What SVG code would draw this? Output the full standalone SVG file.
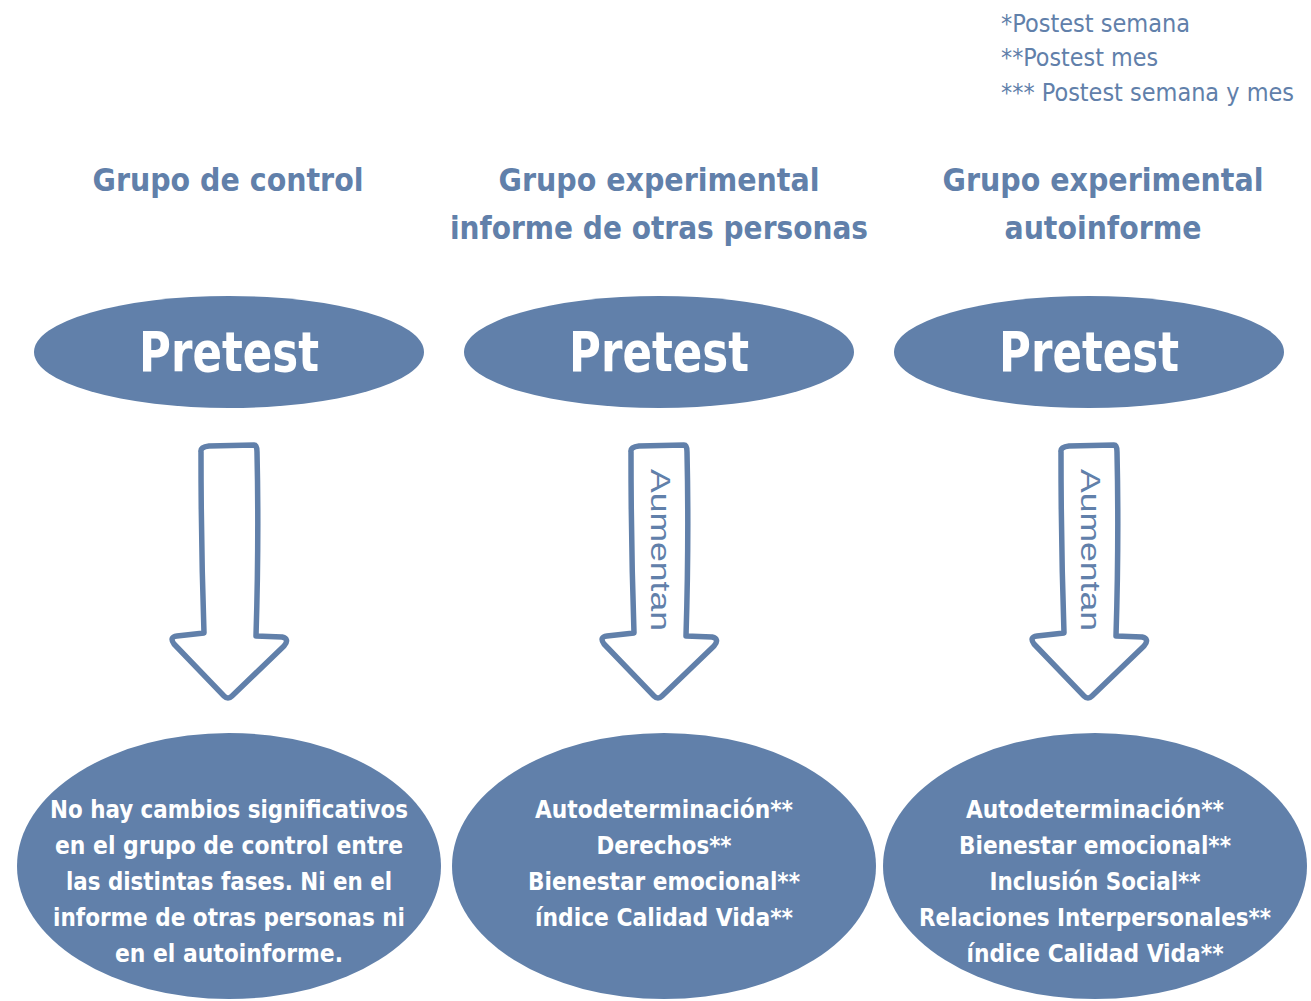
<svg xmlns="http://www.w3.org/2000/svg" width="1311" height="1001" viewBox="0 0 1311 1001">
<style>
.bg{fill:#ffffff}
.ell{fill:#6180AA}
.head{font-family:"DejaVu Sans Condensed","DejaVu Sans","Liberation Sans",sans-serif;font-size:32px;font-weight:bold;fill:#6180AA;text-anchor:middle}
.leg{font-family:"DejaVu Sans Condensed","DejaVu Sans","Liberation Sans",sans-serif;font-size:24px;fill:#6180AA}
.pre{font-family:"DejaVu Sans","Liberation Sans",sans-serif;font-size:55px;font-weight:bold;fill:#ffffff;text-anchor:middle}
.res{font-family:"DejaVu Sans Condensed","DejaVu Sans","Liberation Sans",sans-serif;font-size:24px;font-weight:bold;fill:#ffffff;text-anchor:middle}
.arrow{fill:#ffffff;stroke:#6180AA;stroke-width:5.5;stroke-linejoin:round}
.aum{font-family:"Liberation Sans","DejaVu Sans",sans-serif;font-size:27px;fill:#6180AA;text-anchor:middle}
</style>
<defs>
<path id="arr" d="M 201,452 Q 200,447 209,446 L 254,445 Q 257,445 257,452 Q 259,540 256,636 L 282,637 Q 290,639 284,646 L 232,696 Q 228,700 224,696 L 174,644 Q 169,637 177,636 L 204,633 Q 201,545 201,452 Z"/>
</defs>
<rect class="bg" x="0" y="0" width="1311" height="1001"/>

<g id="legend">
<text class="leg" x="1001" y="32" textLength="189" lengthAdjust="spacingAndGlyphs">*Postest semana</text>
<text class="leg" x="1001" y="66" textLength="157" lengthAdjust="spacingAndGlyphs">**Postest mes</text>
<text class="leg" x="1001" y="101" textLength="293" lengthAdjust="spacingAndGlyphs">*** Postest semana y mes</text>
</g>

<g id="heading-control">
<text class="head" x="228" y="191" textLength="271" lengthAdjust="spacingAndGlyphs">Grupo de control</text>
</g>
<g id="heading-otras">
<text class="head" x="659" y="191" textLength="321" lengthAdjust="spacingAndGlyphs">Grupo experimental</text>
<text class="head" x="659" y="239" textLength="418" lengthAdjust="spacingAndGlyphs">informe de otras personas</text>
</g>
<g id="heading-auto">
<text class="head" x="1103" y="191" textLength="321" lengthAdjust="spacingAndGlyphs">Grupo experimental</text>
<text class="head" x="1103" y="239" textLength="197" lengthAdjust="spacingAndGlyphs">autoinforme</text>
</g>

<g id="pretest-control">
<ellipse class="ell" cx="229" cy="352" rx="195" ry="56"/>
<text class="pre" x="229" y="371" textLength="180" lengthAdjust="spacingAndGlyphs">Pretest</text>
</g>
<g id="pretest-otras">
<ellipse class="ell" cx="659" cy="352" rx="195" ry="56"/>
<text class="pre" x="659" y="371" textLength="180" lengthAdjust="spacingAndGlyphs">Pretest</text>
</g>
<g id="pretest-auto">
<ellipse class="ell" cx="1089" cy="352" rx="195" ry="56"/>
<text class="pre" x="1089" y="371" textLength="180" lengthAdjust="spacingAndGlyphs">Pretest</text>
</g>

<g id="connectors">
<use href="#arr" class="arrow"/>
<use href="#arr" class="arrow" transform="translate(430,0)"/>
<text class="aum" transform="translate(651,550) rotate(90)" x="0" y="0" textLength="162" lengthAdjust="spacingAndGlyphs">Aumentan</text>
<use href="#arr" class="arrow" transform="translate(860,0)"/>
<text class="aum" transform="translate(1081,550) rotate(90)" x="0" y="0" textLength="162" lengthAdjust="spacingAndGlyphs">Aumentan</text>
</g>

<g id="result-control">
<ellipse class="ell" cx="229" cy="866" rx="212" ry="133"/>
<text class="res" x="229" y="818" textLength="358" lengthAdjust="spacingAndGlyphs">No hay cambios significativos</text>
<text class="res" x="229" y="854" textLength="348" lengthAdjust="spacingAndGlyphs">en el grupo de control entre</text>
<text class="res" x="229" y="890" textLength="326" lengthAdjust="spacingAndGlyphs">las distintas fases. Ni en el</text>
<text class="res" x="229" y="926" textLength="352" lengthAdjust="spacingAndGlyphs">informe de otras personas ni</text>
<text class="res" x="229" y="962" textLength="228" lengthAdjust="spacingAndGlyphs">en el autoinforme.</text>
</g>
<g id="result-otras">
<ellipse class="ell" cx="664" cy="866" rx="212" ry="133"/>
<text class="res" x="664" y="818" textLength="258" lengthAdjust="spacingAndGlyphs">Autodeterminación**</text>
<text class="res" x="664" y="854" textLength="135" lengthAdjust="spacingAndGlyphs">Derechos**</text>
<text class="res" x="664" y="890" textLength="272" lengthAdjust="spacingAndGlyphs">Bienestar emocional**</text>
<text class="res" x="664" y="926" textLength="258" lengthAdjust="spacingAndGlyphs">índice Calidad Vida**</text>
</g>
<g id="result-auto">
<ellipse class="ell" cx="1095" cy="866" rx="212" ry="133"/>
<text class="res" x="1095" y="818" textLength="258" lengthAdjust="spacingAndGlyphs">Autodeterminación**</text>
<text class="res" x="1095" y="854" textLength="272" lengthAdjust="spacingAndGlyphs">Bienestar emocional**</text>
<text class="res" x="1095" y="890" textLength="211" lengthAdjust="spacingAndGlyphs">Inclusión Social**</text>
<text class="res" x="1095" y="926" textLength="352" lengthAdjust="spacingAndGlyphs">Relaciones Interpersonales**</text>
<text class="res" x="1095" y="962" textLength="257" lengthAdjust="spacingAndGlyphs">índice Calidad Vida**</text>
</g>
</svg>
